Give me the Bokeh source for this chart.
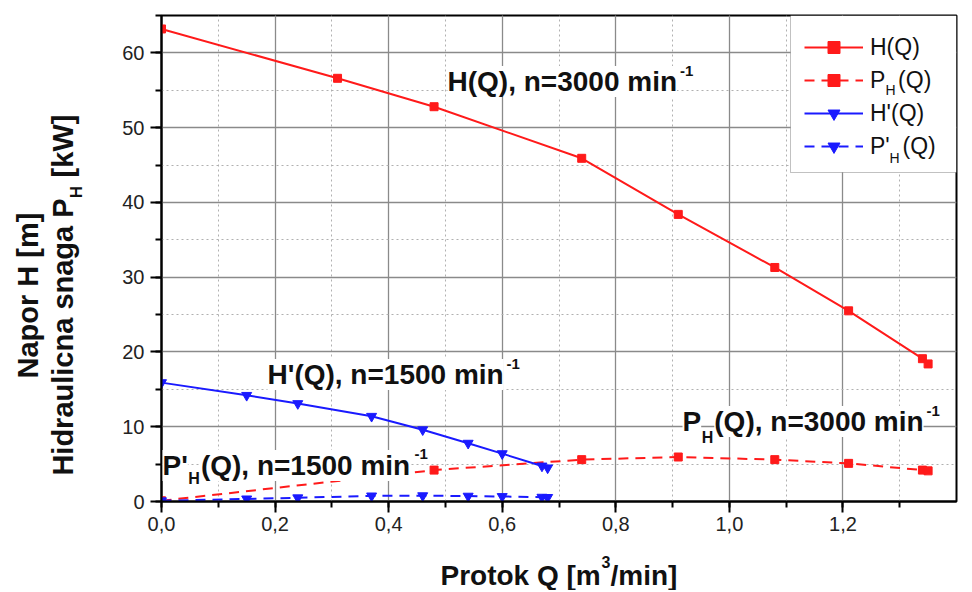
import math
from bokeh.plotting import figure
from bokeh.layouts import row, column
from bokeh.models import (Range1d, SingleIntervalTicker, CustomJSTickFormatter,
                          Label, Legend, LegendItem, BoxAnnotation)
from bokeh.embed import file_html
from bokeh.resources import INLINE

# ---------------- data ----------------
q_h_3000 = [0.0, 0.31, 0.48, 0.74, 0.91, 1.08, 1.21, 1.34, 1.35]
h_3000 = [63.2, 56.6, 52.8, 45.9, 38.4, 31.3, 25.5, 19.1, 18.4]

q_ph_3000 = [0.0, 0.48, 0.74, 0.91, 1.08, 1.21, 1.34, 1.35]
ph_3000 = [0.1, 4.2, 5.6, 5.95, 5.6, 5.1, 4.2, 4.1]

q_1500 = [0.0, 0.15, 0.24, 0.37, 0.46, 0.54, 0.60, 0.67, 0.68]
h_1500 = [15.9, 14.2, 13.1, 11.4, 9.6, 7.8, 6.4, 4.75, 4.5]
ph_1500 = [0.1, 0.35, 0.5, 0.75, 0.78, 0.72, 0.67, 0.58, 0.55]

legend_labels = ["H(Q)", "P\u00a0\u00a0(Q)", "H'(Q)", "P'\u00a0\u00a0(Q)"]

RED = "#ff1a1a"
BLUE = "#1a1aff"
FONT = "Liberation Sans"

TOTAL_W, H = 970, 590
LW = 100                      # left strip holding the y-axis title
W = TOTAL_W - LW
FRAME_L, FRAME_R, FRAME_T, FRAME_B = 161, 956, 15, 501   # page px
MAIN_H = 541                  # main figure height (frame + tick labels)
BOT_H = H - MAIN_H            # bottom strip holding the x-axis title
XMAX, YMAX = 1.4, 65

p = figure(width=W, height=MAIN_H, output_backend="svg", toolbar_location=None,
           x_range=Range1d(0, XMAX), y_range=Range1d(0, YMAX),
           min_border_left=FRAME_L - LW, min_border_right=TOTAL_W - FRAME_R,
           min_border_top=FRAME_T, min_border_bottom=MAIN_H - FRAME_B)
p.background_fill_color = "white"
p.border_fill_color = "white"
p.outline_line_color = "black"
p.outline_line_width = 2

xt = SingleIntervalTicker(interval=0.2, num_minor_ticks=2)
yt = SingleIntervalTicker(interval=10, num_minor_ticks=2)
p.xaxis.ticker = xt
p.yaxis.ticker = yt
p.xgrid.ticker = xt
p.ygrid.ticker = yt
p.xaxis.formatter = CustomJSTickFormatter(code="return tick.toFixed(1).replace('.', ',');")

for ax in (p.xaxis, p.yaxis):
    ax.axis_line_width = 2
    ax.axis_line_color = "black"
    ax.major_tick_in = 0
    ax.major_tick_out = 11
    ax.minor_tick_in = 0
    ax.minor_tick_out = 6
    ax.major_tick_line_width = 2
    ax.minor_tick_line_width = 2
    ax.major_label_text_font = FONT
    ax.major_label_text_font_size = "20px"
    ax.major_label_text_color = "#222222"
p.xaxis.major_label_standoff = 4
p.yaxis.major_label_standoff = 6

for g in (p.xgrid, p.ygrid):
    g.grid_line_color = "#8a8a8a"
    g.grid_line_width = 1.3
    g.minor_grid_line_color = "#b0b0b0"
    g.minor_grid_line_dash = "2 3"
    g.minor_grid_line_width = 1

# ---------------- series ----------------
l1 = p.line(q_h_3000, h_3000, line_color=RED, line_width=2)
s1 = p.scatter(q_h_3000, h_3000, marker="square", size=8, color=RED)
l2 = p.line(q_ph_3000, ph_3000, line_color=RED, line_width=2, line_dash="10 7")
s2 = p.scatter(q_ph_3000, ph_3000, marker="square", size=8, color=RED)
l3 = p.line(q_1500, h_1500, line_color=BLUE, line_width=2)
s3 = p.scatter(q_1500, h_1500, marker="inverted_triangle", size=10, color=BLUE)
l4 = p.line(q_1500, ph_1500, line_color=BLUE, line_width=2, line_dash="10 7")
s4 = p.scatter(q_1500, ph_1500, marker="inverted_triangle", size=10, color=BLUE)

# ---------------- helpers (page px -> data) ----------------
XS = (FRAME_R - FRAME_L) / XMAX
YS = (FRAME_B - FRAME_T) / YMAX


def dx(sx):
    return (sx - FRAME_L) / XS


def dy(sy):
    return (FRAME_B - sy) / YS


def lab(fig, text, x, y, size, ox=0, oy=0, bg=True, style="bold"):
    # (x, y) is the intended baseline start; raise by the renderer's baseline shift
    kw = dict(x=x, y=y, x_offset=ox, y_offset=oy + 0.32 * size, text=text,
              text_font=FONT, text_font_size=f"{size}px", text_font_style=style,
              text_color="#111111", text_baseline="alphabetic", text_align="left")
    if bg:
        kw["background_fill_color"] = "white"
    fig.add_layout(Label(**kw))


def vlab(fig, text, x, y, size):
    # rotated text centred on (x, y)
    fig.add_layout(Label(x=x, y=y, text=text, text_font=FONT, text_font_size=f"{size}px",
                         text_font_style="bold", text_color="#111111",
                         text_baseline="middle", text_align="center", angle=math.pi / 2))


# legend frame (white box drawn under a transparent legend)
p.add_layout(BoxAnnotation(left=dx(790), right=XMAX, top=YMAX, bottom=dy(172),
                           fill_color="white", fill_alpha=1,
                           line_color="#333333", line_width=1))

# curve annotations
lab(p, "H(Q), n=3000 min", dx(447), dy(90), 28)
lab(p, "-1", dx(447), dy(90), 15, ox=232.5, oy=15, bg=False)

lab(p, "H'(Q), n=1500 min", dx(267), dy(383), 28)
lab(p, "-1", dx(267), dy(383), 15, ox=239, oy=15, bg=False)

lab(p, "P", dx(682), dy(430), 28)
lab(p, "H", dx(682), dy(430), 16, ox=19.2, oy=-12)
lab(p, "(Q), n=3000 min", dx(682), dy(430), 28, ox=31.8)
lab(p, "-1", dx(682), dy(430), 15, ox=244, oy=15, bg=False)

lab(p, "P'", dx(162), dy(474), 28)
lab(p, "H", dx(162), dy(474), 16, ox=25.8, oy=-9)
lab(p, "(Q), n=1500 min", dx(162), dy(474), 28, ox=38.4)
lab(p, "-1", dx(162), dy(474), 15, ox=252, oy=16, bg=False)

# legend subscripts
lab(p, "H", dx(885), dy(94), 14, style="normal", bg=False)
lab(p, "H", dx(889), dy(162), 14, style="normal", bg=False)

legend = Legend(items=[LegendItem(label=legend_labels[0], renderers=[l1, s1]),
                       LegendItem(label=legend_labels[1], renderers=[l2, s2]),
                       LegendItem(label=legend_labels[2], renderers=[l3, s3]),
                       LegendItem(label=legend_labels[3], renderers=[l4, s4])],
                location="top_right", margin=0, padding=12, spacing=3,
                glyph_height=30, glyph_width=59, label_standoff=7, label_width=86,
                title="\u00a0", title_text_font_size="12px", title_standoff=3,
                label_text_font=FONT, label_text_font_size="23px",
                label_text_color="#111111",
                border_line_color=None, background_fill_alpha=0)
p.add_layout(legend)


def strip(width, height, xr):
    f = figure(width=width, height=height, output_backend="svg", toolbar_location=None,
               x_range=xr, y_range=Range1d(0, height),
               x_axis_location=None, y_axis_location=None,
               min_border_left=0, min_border_right=0, min_border_top=0, min_border_bottom=0)
    f.grid.visible = False
    f.outline_line_color = None
    f.background_fill_color = "white"
    f.border_fill_color = "white"
    return f


# ---------------- left strip: y-axis title (page coordinates) ----------------
left = strip(LW, H, Range1d(0, LW))
vlab(left, "Napor H [m]", 27, H - 295, 29)
vlab(left, "Hidraulicna snaga P", 62, H - 336.5, 29)
vlab(left, "H", 75.5, H - 191.5, 17)
vlab(left, "[kW]", 62, H - 145.5, 29)

# ---------------- bottom strip: x-axis title (frame aligned with the plot) ----------------
bottom = strip(W, BOT_H, Range1d(0, XMAX))


def by(sy):
    return MAIN_H + BOT_H - sy


lab(bottom, "Protok Q [m", dx(440), by(584), 28, bg=False)
lab(bottom, "3", dx(440), by(584), 16, ox=161, oy=17, bg=False)
lab(bottom, "/min]", dx(440), by(584), 28, ox=170, bg=False)

layout = row(left, column(p, bottom, spacing=0), spacing=0)
open("out.html", "w").write(file_html(layout, INLINE))
